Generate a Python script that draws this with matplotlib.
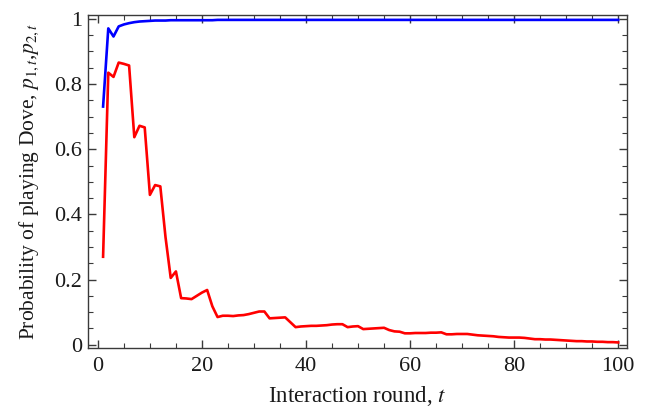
import numpy as np
import matplotlib.pyplot as plt
from matplotlib.ticker import MultipleLocator

plt.rcParams['font.family'] = ['Liberation Serif', 'DejaVu Serif']
plt.rcParams['mathtext.fontset'] = 'stix'

# Interaction rounds
t = np.arange(1, 101)

# Probability of playing Dove, player 1 (blue)
p1 = [0.731, 0.971, 0.946, 0.977, 0.983, 0.987, 0.990, 0.992, 0.993, 0.994,
      0.995, 0.995, 0.995, 0.996, 0.996, 0.996, 0.996, 0.996, 0.996, 0.996,
      0.996, 0.996, 0.997, 0.997, 0.997, 0.997, 0.997, 0.997, 0.997, 0.997,
      0.997, 0.997, 0.997, 0.997, 0.997, 0.997, 0.997, 0.997, 0.997, 0.997,
      0.997, 0.997, 0.997, 0.997, 0.997, 0.997, 0.997, 0.997, 0.997, 0.997,
      0.997, 0.997, 0.997, 0.997, 0.997, 0.997, 0.997, 0.997, 0.997, 0.997,
      0.997, 0.997, 0.997, 0.997, 0.997, 0.997, 0.997, 0.997, 0.997, 0.997,
      0.997, 0.997, 0.997, 0.997, 0.997, 0.997, 0.997, 0.997, 0.997, 0.997,
      0.997, 0.997, 0.997, 0.997, 0.997, 0.997, 0.997, 0.997, 0.997, 0.997,
      0.997, 0.997, 0.997, 0.997, 0.997, 0.997, 0.997, 0.997, 0.997, 0.997]

# Probability of playing Dove, player 2 (red)
p2 = [0.270, 0.835, 0.822, 0.866, 0.862, 0.857, 0.637, 0.672, 0.667, 0.460,
      0.490, 0.486, 0.330, 0.205, 0.225, 0.143, 0.142, 0.140, 0.150, 0.160,
      0.168, 0.118, 0.085, 0.089, 0.089, 0.088, 0.090, 0.091, 0.094, 0.098,
      0.102, 0.102, 0.081, 0.082, 0.083, 0.084, 0.069, 0.054, 0.056, 0.057,
      0.058, 0.058, 0.059, 0.060, 0.062, 0.063, 0.063, 0.054, 0.056, 0.057,
      0.048, 0.049, 0.050, 0.051, 0.052, 0.045, 0.041, 0.040, 0.035, 0.035,
      0.036, 0.036, 0.036, 0.037, 0.037, 0.038, 0.032, 0.032, 0.033, 0.033,
      0.033, 0.031, 0.029, 0.028, 0.027, 0.026, 0.024, 0.023, 0.022, 0.022,
      0.022, 0.021, 0.019, 0.017, 0.017, 0.016, 0.016, 0.015, 0.014, 0.013,
      0.012, 0.011, 0.011, 0.010, 0.010, 0.009, 0.009, 0.008, 0.008, 0.007]

fig = plt.figure(figsize=(6.48, 4.11), dpi=100)
ax = fig.add_axes([0.1358, 0.1533, 0.8318, 0.8102])

ax.plot(t, p1, color='#0000ff', lw=1.9)
ax.plot(t, p2, color='#ff0000', lw=1.9)

ax.set_xlim(-1.9, 101.7)
ax.set_ylim(-0.01, 1.012)

ax.xaxis.set_major_locator(MultipleLocator(20))
ax.xaxis.set_minor_locator(MultipleLocator(5))
ax.yaxis.set_major_locator(MultipleLocator(0.2))
ax.yaxis.set_minor_locator(MultipleLocator(0.05))
ax.yaxis.set_major_formatter(plt.FuncFormatter(lambda v, _: '%g' % round(v, 2)))

frame = '#3a3a3a'
for s in ax.spines.values():
    s.set_color(frame)
    s.set_linewidth(1.0)
ax.tick_params(which='both', direction='in', top=True, right=True,
               color=frame, labelsize=16, labelcolor='#1a1a1a')
ax.tick_params(which='major', length=6, width=1.0)
ax.tick_params(which='minor', length=3.5, width=0.8)
ax.tick_params(axis='y', pad=4)
ax.tick_params(axis='x', pad=6.5)

ax.set_xlabel('Interaction round, $t$', fontsize=16.5, color='#1a1a1a',
              labelpad=6)
ax.set_ylabel('Probability of playing Dove, $p_{1,t}$,$p_{2,t}$', fontsize=15.5,
              color='#1a1a1a', labelpad=9.5)

fig.savefig('out.png', dpi=100)
